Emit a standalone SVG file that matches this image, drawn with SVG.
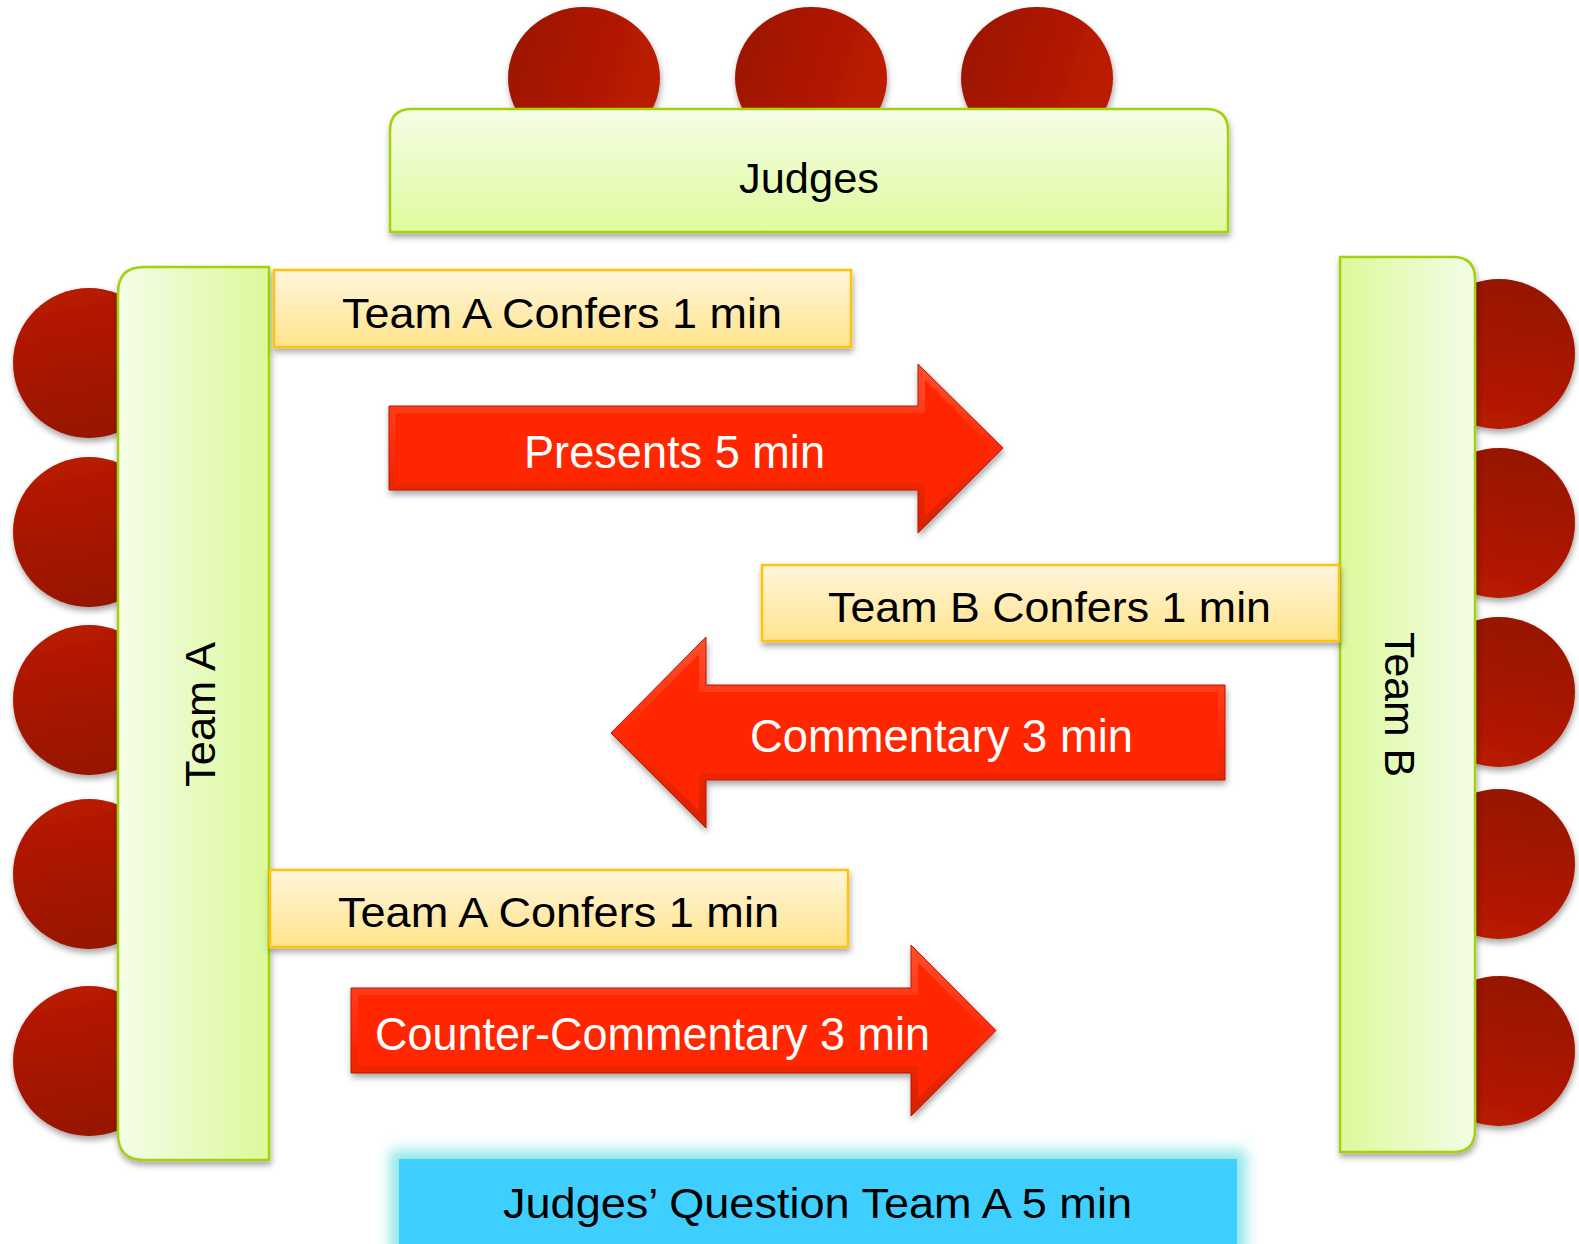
<svg xmlns="http://www.w3.org/2000/svg" width="1579" height="1244" viewBox="0 0 1579 1244">
<defs>
<style>
.lbl{font-family:"Liberation Sans",Arial,sans-serif;font-size:43px;fill:#000;text-anchor:start}
.wlbl{font-family:"Liberation Sans",Arial,sans-serif;font-size:46px;fill:#fff;text-anchor:start}
.tbl{stroke:#a3d10f;stroke-width:2.5}
.ybox{fill:url(#gYel);stroke:#ffc20e;stroke-width:2.5}
.arrowOuter{fill:url(#gBevel);stroke:#b51a05;stroke-width:1}
.arrowInner{fill:#ff2600}
</style>
<linearGradient id="gJudge" x1="0" y1="0" x2="0" y2="1"><stop offset="0" stop-color="#f5fde6"/><stop offset="1" stop-color="#dffb9e"/></linearGradient>
<linearGradient id="gTeamA" x1="0" y1="0" x2="1" y2="0"><stop offset="0" stop-color="#f4fde8"/><stop offset="1" stop-color="#dcf99a"/></linearGradient>
<linearGradient id="gTeamB" x1="0" y1="0" x2="1" y2="0"><stop offset="0" stop-color="#dcf99a"/><stop offset="1" stop-color="#f4fde8"/></linearGradient>
<linearGradient id="gYel" x1="0" y1="0" x2="0" y2="1"><stop offset="0" stop-color="#fff6dc"/><stop offset="1" stop-color="#ffe38c"/></linearGradient>
<linearGradient id="gBevel" x1="0" y1="0" x2="0" y2="1"><stop offset="0" stop-color="#ff5030"/><stop offset="0.5" stop-color="#ff2a08"/><stop offset="1" stop-color="#d62000"/></linearGradient>
<linearGradient id="gHeadH" x1="0" y1="0" x2="1" y2="0.3"><stop offset="0" stop-color="#9a1400"/><stop offset="1" stop-color="#bb1b00"/></linearGradient>
<linearGradient id="gHeadL" x1="0" y1="0" x2="0.2" y2="1"><stop offset="0" stop-color="#bb1b00"/><stop offset="1" stop-color="#981300"/></linearGradient>
<linearGradient id="gHeadR" x1="0.2" y1="0" x2="0" y2="1"><stop offset="0" stop-color="#981300"/><stop offset="1" stop-color="#bb1b00"/></linearGradient>
<filter id="sh" x="-10%" y="-10%" width="120%" height="130%"><feDropShadow dx="1" dy="4" stdDeviation="3" flood-color="#000" flood-opacity="0.35"/></filter>
<filter id="glow" x="-10%" y="-50%" width="120%" height="200%"><feGaussianBlur stdDeviation="7"/></filter>
</defs>
<rect width="1579" height="1244" fill="#fff"/>

<g id="judge-heads" filter="url(#sh)">
<ellipse cx="584" cy="78" rx="76" ry="71" fill="url(#gHeadH)"/>
<ellipse cx="811" cy="78" rx="76" ry="71" fill="url(#gHeadH)"/>
<ellipse cx="1037" cy="78" rx="76" ry="71" fill="url(#gHeadH)"/>
</g>
<g id="teamA-heads" filter="url(#sh)">
<ellipse cx="89" cy="363" rx="76" ry="75" fill="url(#gHeadL)"/>
<ellipse cx="89" cy="532" rx="76" ry="75" fill="url(#gHeadL)"/>
<ellipse cx="89" cy="700" rx="76" ry="75" fill="url(#gHeadL)"/>
<ellipse cx="89" cy="874" rx="76" ry="75" fill="url(#gHeadL)"/>
<ellipse cx="89" cy="1061" rx="76" ry="75" fill="url(#gHeadL)"/>
</g>
<g id="teamB-heads" filter="url(#sh)">
<ellipse cx="1499" cy="354" rx="76" ry="75" fill="url(#gHeadR)"/>
<ellipse cx="1499" cy="523" rx="76" ry="75" fill="url(#gHeadR)"/>
<ellipse cx="1499" cy="692" rx="76" ry="75" fill="url(#gHeadR)"/>
<ellipse cx="1499" cy="864" rx="76" ry="75" fill="url(#gHeadR)"/>
<ellipse cx="1499" cy="1051" rx="76" ry="75" fill="url(#gHeadR)"/>
</g>

<g id="judges">
<path class="tbl" filter="url(#sh)" fill="url(#gJudge)" d="M390,232 V131 Q390,109 412,109 H1206 Q1228,109 1228,131 V232 Z"/>
<text class="lbl" x="739" y="193" font-size="42" textLength="140" lengthAdjust="spacingAndGlyphs">Judges</text>
</g>

<g id="teamA">
<path class="tbl" filter="url(#sh)" fill="url(#gTeamA)" d="M269,267 H144 Q118,267 118,293 V1134 Q118,1160 144,1160 H269 Z"/>
<text class="lbl" transform="translate(215,714.5) rotate(-90)" x="-72.5" y="0" font-size="42" textLength="145" lengthAdjust="spacingAndGlyphs">Team A</text>
</g>

<g id="teamB">
<path class="tbl" filter="url(#sh)" fill="url(#gTeamB)" d="M1340,257 H1453 Q1475,257 1475,279 V1130 Q1475,1152 1453,1152 H1340 Z"/>
<text class="lbl" transform="translate(1385,704.5) rotate(90)" x="-72.5" y="0" font-size="42" textLength="145" lengthAdjust="spacingAndGlyphs">Team B</text>
</g>

<g id="teamA-confers-1">
<rect class="ybox" filter="url(#sh)" x="274" y="270" width="577" height="77"/>
<text class="lbl" x="342" y="328" textLength="440" lengthAdjust="spacingAndGlyphs">Team A Confers 1 min</text>
</g>

<g id="teamB-confers">
<rect class="ybox" filter="url(#sh)" x="762" y="565" width="577" height="76"/>
<text class="lbl" x="828" y="622" textLength="443" lengthAdjust="spacingAndGlyphs">Team B Confers 1 min</text>
</g>

<g id="teamA-confers-2">
<rect class="ybox" filter="url(#sh)" x="270" y="870" width="578" height="77"/>
<text class="lbl" x="338" y="927" textLength="441" lengthAdjust="spacingAndGlyphs">Team A Confers 1 min</text>
</g>

<g id="connectors">
<g id="arrow-presents">
<polygon class="arrowOuter" filter="url(#sh)" points="389,406 918,406 918,364 1003,448 918,533 918,490 389,490"/>
<polygon class="arrowInner" points="396,413 925,413 925,380 993,448 925,516 925,483 396,483"/>
<text class="wlbl" x="524" y="468" textLength="301" lengthAdjust="spacingAndGlyphs">Presents 5 min</text>
</g>
<g id="arrow-commentary">
<polygon class="arrowOuter" filter="url(#sh)" points="1225,685 706,685 706,637 611,733 706,828 706,780 1225,780"/>
<polygon class="arrowInner" points="1218,692 699,692 699,654 621,733 699,811 699,773 1218,773"/>
<text class="wlbl" x="750" y="752" textLength="383" lengthAdjust="spacingAndGlyphs">Commentary 3 min</text>
</g>
<g id="arrow-counter">
<polygon class="arrowOuter" filter="url(#sh)" points="351,988 911,988 911,945 996,1030.5 911,1116 911,1073 351,1073"/>
<polygon class="arrowInner" points="358,995 918,995 918,962.5 986,1030.5 918,1098.5 918,1066 358,1066"/>
<text class="wlbl" x="375" y="1050" textLength="555" lengthAdjust="spacingAndGlyphs">Counter-Commentary 3 min</text>
</g>
</g>

<g id="judges-question">
<rect x="390" y="1150" width="856" height="110" fill="#8fe6e8" filter="url(#glow)"/>
<rect x="399" y="1159" width="838" height="95" fill="#3fcfff"/>
<text class="lbl" x="503" y="1218" textLength="629" lengthAdjust="spacingAndGlyphs">Judges’ Question Team A 5 min</text>
</g>
</svg>
